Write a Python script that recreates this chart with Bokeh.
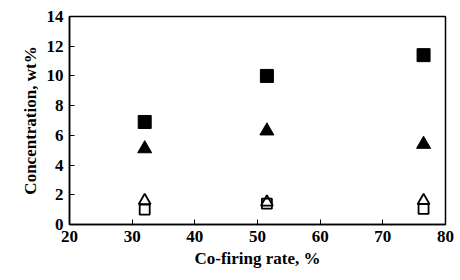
from bokeh.plotting import figure
from bokeh.models import Range1d, FixedTicker
from bokeh.embed import file_html
from bokeh.resources import INLINE

cofiring = [32, 51.5, 76.5]
filled_sq = [6.9, 10.0, 11.4]
filled_tri = [5.1, 6.3, 5.4]
open_tri = [1.6, 1.5, 1.6]
open_sq = [1.0, 1.4, 1.05]
x_ticks = [20, 30, 40, 50, 60, 70, 80]
y_ticks = [0, 2, 4, 6, 8, 10, 12, 14]

p = figure(width=460, height=280, output_backend="svg", toolbar_location=None,
           x_range=Range1d(20, 80), y_range=Range1d(0, 14),
           min_border_left=69, min_border_right=15, min_border_top=16, min_border_bottom=56)
p.grid.visible = False
p.outline_line_color = "black"
p.outline_line_width = 1.5
p.background_fill_color = "white"
p.border_fill_color = "white"

FONT = "Liberation Serif"
for ax in (p.xaxis[0], p.yaxis[0]):
    ax.axis_line_color = "black"
    ax.axis_line_width = 1.5
    ax.major_tick_in = 5
    ax.major_tick_out = 0
    ax.minor_tick_line_color = None
    ax.major_label_text_font = FONT
    ax.major_label_text_font_size = "17px"
    ax.major_label_text_font_style = "bold"
    ax.major_label_text_color = "black"
    ax.axis_label_text_font = FONT
    ax.axis_label_text_font_size = "17px"
    ax.axis_label_text_font_style = "bold"
    ax.axis_label_text_color = "black"

p.xaxis.ticker = FixedTicker(ticks=x_ticks)
p.yaxis.ticker = FixedTicker(ticks=y_ticks)
p.xaxis.axis_label = "Co-firing rate, %"
p.yaxis.axis_label = "Concentration, wt%"
p.xaxis.major_label_standoff = 6
p.yaxis.major_label_standoff = 6
p.xaxis.axis_label_standoff = 4
p.yaxis.axis_label_standoff = 4

p.scatter(cofiring, filled_sq, marker="square", size=13, fill_color="black", line_color="black")
p.scatter(cofiring, filled_tri, marker="triangle", size=14, fill_color="black", line_color="black")
p.scatter(cofiring, open_tri, marker="triangle", size=12, fill_color=None, line_color="black", line_width=1.8)
p.scatter(cofiring, open_sq, marker="square", size=10, fill_color=None, line_color="black", line_width=1.8)

open("out.html", "w").write(file_html(p, INLINE))
